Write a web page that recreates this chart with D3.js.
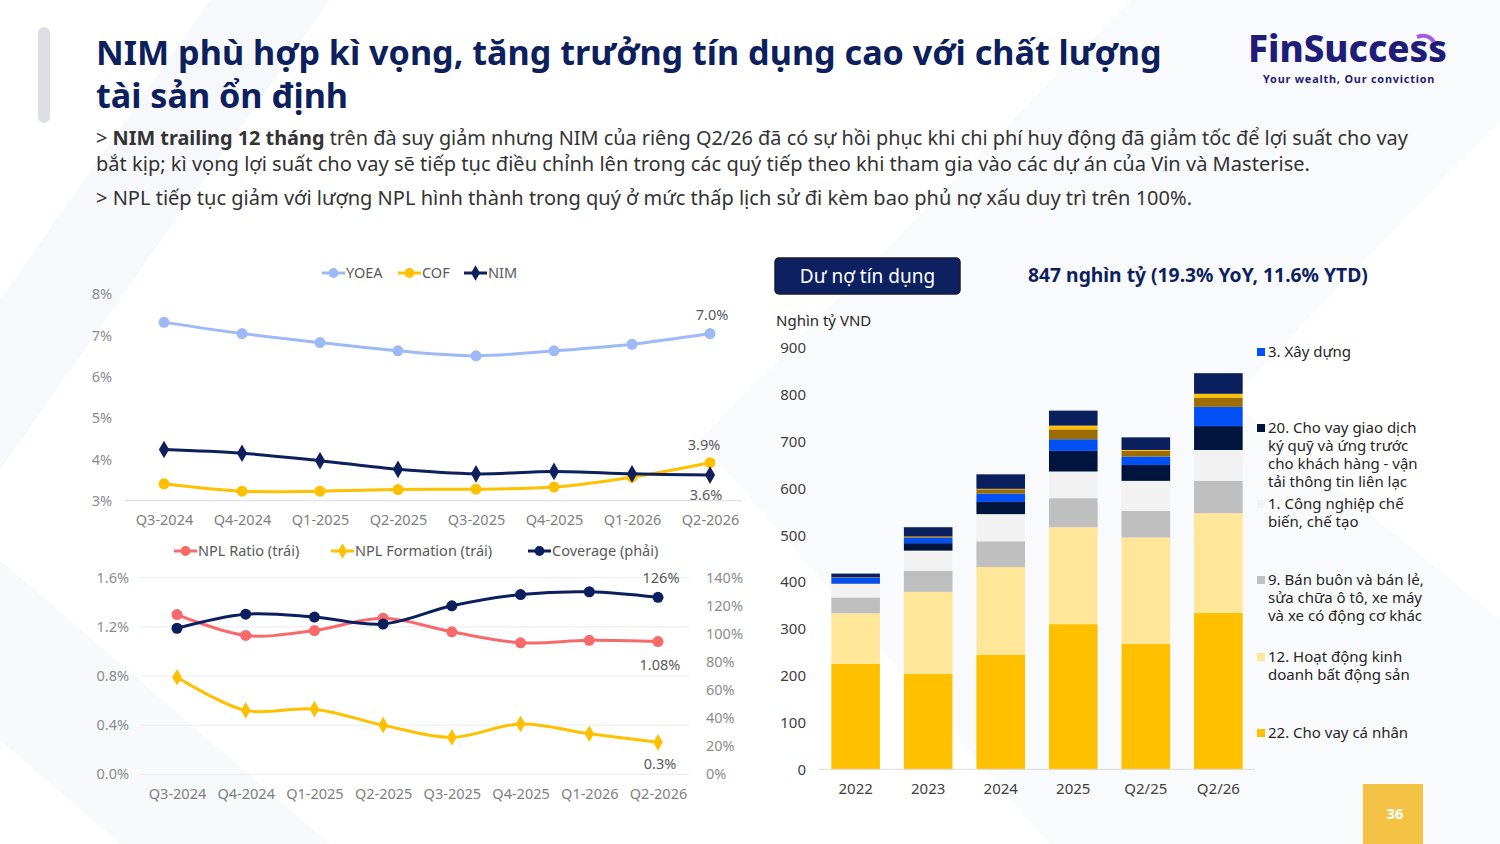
<!DOCTYPE html>
<html>
<head>
<meta charset="utf-8">
<script src="https://cdn.jsdelivr.net/npm/d3@7.9.0/dist/d3.min.js"></script>
<style>
  body { margin: 0; background: #fff; }
  svg { display: block; font-family: "Noto Sans", sans-serif; }
</style>
</head>
<body>
<svg id="slide" width="1500" height="844"></svg>
<script>
// ---- data: margins (top left) ----
const quarters = ["Q3-2024", "Q4-2024", "Q1-2025", "Q2-2025", "Q3-2025", "Q4-2025", "Q1-2026", "Q2-2026"];
const yoea = [7.32, 7.05, 6.83, 6.63, 6.51, 6.63, 6.79, 7.05];
const cof = [3.41, 3.23, 3.23, 3.27, 3.28, 3.33, 3.57, 3.92];
const nim = [4.24, 4.15, 3.97, 3.76, 3.65, 3.71, 3.65, 3.62];
const rateTicks = [3, 4, 5, 6, 7, 8];

// ---- data: asset quality (bottom left) ----
const nplRatio = [1.30, 1.13, 1.17, 1.27, 1.16, 1.07, 1.09, 1.08];
const nplFormation = [0.79, 0.52, 0.53, 0.40, 0.30, 0.41, 0.33, 0.26];
const coverage = [104, 114, 112, 107, 120, 128, 130, 126];
const nplTicks = [0, 0.4, 0.8, 1.2, 1.6];
const coverageTicks = [0, 20, 40, 60, 80, 100, 120, 140];

// ---- data: loan book by sector (right), nghìn tỷ VND ----
const periods = ["2022", "2023", "2024", "2025", "Q2/25", "Q2/26"];
const loanPersonal = [225, 204, 245, 310, 268, 334];     // 22. Cho vay cá nhân
const loanRealEstate = [108, 175, 187, 207, 227, 213];   // 12. Hoạt động kinh doanh BĐS
const loanTrade = [34, 45, 55, 62, 57, 69];              // 9. Bán buôn và bán lẻ
const loanManufacturing = [29, 43, 58, 57, 64, 66];      // 1. Công nghiệp chế biến
const loanMargin = [1, 16, 26, 44, 34, 51];              // 20. Cho vay giao dịch ký quỹ
const loanConstruction = [12, 12, 18, 25, 18, 41];       // 3. Xây dựng
const loanOtherA = [1, 3, 9, 21, 12, 20];
const loanOtherB = [0, 0, 1, 8, 2, 8];
const loanOtherC = [8, 19, 31, 32, 27, 44];
const loanTicks = [0, 100, 200, 300, 400, 500, 600, 700, 800, 900];

const svg = d3.select("#slide");
const navy = "#0d1f5c";

// fit a text element to a target width by scaling font size
function fitWidth(sel, target) {
  const node = sel.node();
  const fs = parseFloat(sel.attr("font-size"));
  const w = node.getComputedTextLength();
  sel.attr("font-size", (fs * target / w).toFixed(2));
}

// ---- background decoration ----
const deco = svg.append("g").attr("fill", "#f4f5f9");
deco.append("path").attr("d", "M210,0 L0,300 L0,470 L330,0 Z").attr("opacity", 0.7);
deco.append("path").attr("d", "M1130,0 L700,440 L1050,844 L1500,844 L1500,620 L1230,400 L1500,120 L1500,0 Z").attr("opacity", 0.55);
deco.append("path").attr("d", "M0,560 L330,844 L120,844 L0,740 Z").attr("opacity", 0.6);

// ---- header ----
svg.append("rect").attr("x", 38).attr("y", 27).attr("width", 12).attr("height", 96)
  .attr("rx", 6).attr("fill", "#dcdde5");

const title1 = svg.append("text").attr("x", 96).attr("y", 65).attr("font-size", 33)
  .attr("font-weight", 700).attr("fill", navy)
  .text("NIM phù hợp kì vọng, tăng trưởng tín dụng cao với chất lượng");
fitWidth(title1, 1066);
svg.append("text").attr("x", 96).attr("y", 108).attr("font-size", title1.attr("font-size"))
  .attr("font-weight", 700).attr("fill", navy).text("tài sản ổn định");

const sub1 = svg.append("text").attr("x", 96).attr("y", 145).attr("font-size", 19).attr("fill", "#333");
sub1.append("tspan").text("> ");
sub1.append("tspan").attr("font-weight", 700).text("NIM trailing 12 tháng");
sub1.append("tspan").text(" trên đà suy giảm nhưng NIM của riêng Q2/26 đã có sự hồi phục khi chi phí huy động đã giảm tốc để lợi suất cho vay");
fitWidth(sub1, 1312);
const sub2 = svg.append("text").attr("x", 96).attr("y", 171).attr("font-size", 19).attr("fill", "#333")
  .text("bắt kịp; kì vọng lợi suất cho vay sẽ tiếp tục điều chỉnh lên trong các quý tiếp theo khi tham gia vào các dự án của Vin và Masterise.");
fitWidth(sub2, 1215);
const sub3 = svg.append("text").attr("x", 96).attr("y", 205).attr("font-size", 19).attr("fill", "#333")
  .text("> NPL tiếp tục giảm với lượng NPL hình thành trong quý ở mức thấp lịch sử đi kèm bao phủ nợ xấu duy trì trên 100%.");
fitWidth(sub3, 1096);

// ---- logo ----
const logo = svg.append("text").attr("x", 1248).attr("y", 62).attr("font-size", 36)
  .attr("font-weight", 800).attr("fill", "#1f1d78").text("FinSuccess");
fitWidth(logo, 199);
const tag = svg.append("text").attr("x", 1263).attr("y", 83).attr("font-size", 11)
  .attr("font-weight", 700).attr("fill", "#1f1d78").attr("letter-spacing", 0.8)
  .text("Your wealth, Our conviction");
fitWidth(tag, 172);
svg.append("path").attr("d", "M1417,37 Q1428,33 1434,42").attr("fill", "none")
  .attr("stroke", "#a259e6").attr("stroke-width", 4);

// ---- helpers for line charts ----
function legendItem(g, x, y, color, label, shape) {
  g.append("line").attr("x1", x).attr("x2", x + 23).attr("y1", y).attr("y2", y)
    .attr("stroke", color).attr("stroke-width", 3);
  g.append("path").attr("transform", `translate(${x + 11.5},${y})`)
    .attr("d", d3.symbol(shape, shape === d3.symbolDiamond ? 70 : 75)())
    .attr("fill", color);
  g.append("text").attr("x", x + 24).attr("y", y + 5).attr("font-size", 14.5)
    .attr("fill", "#595959").text(label);
}

function drawSeries(g, xs, ys, values, color, shape, size) {
  const line = d3.line().x((d, i) => xs(quarters[i])).y(d => ys(d)).curve(d3.curveCatmullRom.alpha(0.5));
  g.append("path").datum(values).attr("d", line).attr("fill", "none")
    .attr("stroke", color).attr("stroke-width", 3);
  g.selectAll(null).data(values).join("path")
    .attr("transform", (d, i) => `translate(${xs(quarters[i])},${ys(d)})`)
    .attr("d", d3.symbol(shape, size)())
    .attr("fill", color);
}

function styleAxis(axisG, size, color) {
  axisG.select(".domain").remove();
  axisG.selectAll("text").attr("font-size", size).attr("fill", color).attr("font-family", "Noto Sans");
}

// ---- chart 1: YOEA / COF / NIM ----
const c1 = svg.append("g");
const x1 = d3.scalePoint().domain(quarters).range([164, 710]);
const y1 = d3.scaleLinear().domain([3, 8]).range([500.7, 294.3]);

c1.append("line").attr("x1", 125).attr("x2", 742).attr("y1", y1(3)).attr("y2", y1(3))
  .attr("stroke", "#d9d9d9").attr("stroke-width", 1);

const y1Axis = c1.append("g").attr("transform", "translate(112,0)")
  .call(d3.axisLeft(y1).tickValues(rateTicks).tickSize(0).tickPadding(0).tickFormat(d => d + "%"));
styleAxis(y1Axis, 14.5, "#8c8c8c");

const x1Axis = c1.append("g").attr("transform", `translate(0,${y1(3) + 12})`)
  .call(d3.axisBottom(x1).tickSize(0).tickPadding(0));
styleAxis(x1Axis, 14.5, "#7f7f7f");
x1Axis.selectAll("text").attr("dy", "0.85em");

drawSeries(c1, x1, y1, yoea, "#9dbaf7", d3.symbolCircle, 95);
drawSeries(c1, x1, y1, cof, "#ffc000", d3.symbolCircle, 95);
drawSeries(c1, x1, y1, nim, navy, d3.symbolDiamond, 90);

const last = quarters.length - 1;
const c1Labels = [
  { v: yoea[last], text: "7.0%", dx: 2, dy: -14 },
  { v: cof[last], text: "3.9%", dx: -6, dy: -13 },
  { v: nim[last], text: "3.6%", dx: -4, dy: 25 }
];
c1.selectAll(".dl").data(c1Labels).join("text")
  .attr("x", d => x1(quarters[last]) + d.dx).attr("y", d => y1(d.v) + d.dy)
  .attr("text-anchor", "middle").attr("font-size", 14.5).attr("fill", "#595959")
  .text(d => d.text);

const lg1 = c1.append("g");
legendItem(lg1, 322, 273, "#9dbaf7", "YOEA", d3.symbolCircle);
legendItem(lg1, 398, 273, "#ffc000", "COF", d3.symbolCircle);
legendItem(lg1, 464, 273, navy, "NIM", d3.symbolDiamond);

// ---- chart 2: NPL ratio / formation / coverage ----
const c2 = svg.append("g");
const x2 = d3.scalePoint().domain(quarters).range([177, 658]);
const y2 = d3.scaleLinear().domain([0, 1.6]).range([774.3, 577.7]);
const y2r = d3.scaleLinear().domain([0, 140]).range([774.3, 577.7]);

c2.selectAll(".grid").data(nplTicks).join("line")
  .attr("x1", 140).attr("x2", 690).attr("y1", d => y2(d)).attr("y2", d => y2(d))
  .attr("stroke", "#ececec").attr("stroke-width", 1);

const y2Axis = c2.append("g").attr("transform", "translate(129,0)")
  .call(d3.axisLeft(y2).tickValues(nplTicks).tickSize(0).tickPadding(0).tickFormat(d => d.toFixed(1) + "%"));
styleAxis(y2Axis, 14.5, "#8c8c8c");

const y2rAxis = c2.append("g").attr("transform", "translate(706,0)")
  .call(d3.axisRight(y2r).tickValues(coverageTicks).tickSize(0).tickPadding(0).tickFormat(d => d + "%"));
styleAxis(y2rAxis, 14.5, "#8c8c8c");

const x2Axis = c2.append("g").attr("transform", `translate(0,${y2(0) + 12})`)
  .call(d3.axisBottom(x2).tickSize(0).tickPadding(0));
styleAxis(x2Axis, 14.5, "#7f7f7f");
x2Axis.selectAll("text").attr("dy", "0.85em");

drawSeries(c2, x2, y2, nplRatio, "#f8696b", d3.symbolCircle, 95);
drawSeries(c2, x2, y2, nplFormation, "#ffc000", d3.symbolDiamond, 80);
drawSeries(c2, x2, y2r, coverage, "#0b1f5e", d3.symbolCircle, 95);

const c2Labels = [
  { y: y2r(coverage[last]), text: "126%", dx: 3, dy: -14 },
  { y: y2(nplRatio[last]), text: "1.08%", dx: 2, dy: 28 },
  { y: y2(nplFormation[last]), text: "0.3%", dx: 2, dy: 27 }
];
c2.selectAll(".dl").data(c2Labels).join("text")
  .attr("x", d => x2(quarters[last]) + d.dx).attr("y", d => d.y + d.dy)
  .attr("text-anchor", "middle").attr("font-size", 14.5).attr("fill", "#595959")
  .text(d => d.text);

const lg2 = c2.append("g");
legendItem(lg2, 174, 551, "#f8696b", "NPL Ratio (trái)", d3.symbolCircle);
legendItem(lg2, 331, 551, "#ffc000", "NPL Formation (trái)", d3.symbolDiamond);
legendItem(lg2, 528, 551, "#0b1f5e", "Coverage (phải)", d3.symbolCircle);

// ---- chart 3: stacked loan book ----
const sectors = [
  { key: "22. Cho vay cá nhân", values: loanPersonal, color: "#ffc000" },
  { key: "12. Hoạt động kinh doanh bất động sản", values: loanRealEstate, color: "#ffe699" },
  { key: "9. Bán buôn và bán lẻ, sửa chữa ô tô, xe máy và xe có động cơ khác", values: loanTrade, color: "#bfbfbf" },
  { key: "1. Công nghiệp chế biến, chế tạo", values: loanManufacturing, color: "#f2f2f2" },
  { key: "20. Cho vay giao dịch ký quỹ và ứng trước cho khách hàng - vận tải thông tin liên lạc", values: loanMargin, color: "#00153d" },
  { key: "3. Xây dựng", values: loanConstruction, color: "#0050f5" },
  { key: "Khác A", values: loanOtherA, color: "#9c6c00" },
  { key: "Khác B", values: loanOtherB, color: "#ffc000" },
  { key: "Khác C", values: loanOtherC, color: "#0b1f5e" }
];
const loanTable = periods.map((p, i) => {
  const row = { period: p };
  sectors.forEach(s => { row[s.key] = s.values[i]; });
  return row;
});
const stack = d3.stack().keys(sectors.map(s => s.key))(loanTable);

const c3 = svg.append("g");
const x3 = d3.scaleBand().domain(periods).range([819, 1255]).paddingInner(0.33).paddingOuter(0.17);
const y3 = d3.scaleLinear().domain([0, 900]).range([769.3, 347.9]);

c3.selectAll(".layer").data(stack).join("g")
  .attr("fill", (d, i) => sectors[i].color)
  .selectAll("rect").data(d => d).join("rect")
  .attr("x", d => x3(d.data.period))
  .attr("width", x3.bandwidth())
  .attr("y", d => y3(d[1]))
  .attr("height", d => Math.max(0, y3(d[0]) - y3(d[1])));

c3.append("line").attr("x1", 819).attr("x2", 1255).attr("y1", y3(0)).attr("y2", y3(0))
  .attr("stroke", "#d9d9d9");

const y3Axis = c3.append("g").attr("transform", "translate(806,0)")
  .call(d3.axisLeft(y3).tickValues(loanTicks).tickSize(0).tickPadding(0));
styleAxis(y3Axis, 15, "#404040");

const x3Axis = c3.append("g").attr("transform", `translate(0,${y3(0) + 12})`)
  .call(d3.axisBottom(x3).tickSize(0).tickPadding(0));
styleAxis(x3Axis, 15, "#404040");
x3Axis.selectAll("text").attr("dy", "0.85em");

svg.append("text").attr("x", 776).attr("y", 326).attr("font-size", 15).attr("fill", "#262626").text("Nghìn tỷ VND");

// title box and headline
svg.append("rect").attr("x", 775).attr("y", 258).attr("width", 185).attr("height", 36).attr("rx", 4)
  .attr("fill", "#0d2060").attr("stroke", "#1a1a2e").attr("stroke-width", 1.5);
svg.append("text").attr("x", 867.5).attr("y", 283).attr("text-anchor", "middle")
  .attr("font-size", 19).attr("fill", "#fff").text("Dư nợ tín dụng");
const headline = svg.append("text").attr("x", 1028).attr("y", 282).attr("font-size", 19)
  .attr("font-weight", 700).attr("fill", navy).text("847 nghìn tỷ (19.3% YoY, 11.6% YTD)");
fitWidth(headline, 340);

// legend (wrapped lines as in the reference)
const legendRows = [
  { color: "#0050f5", y: 357, lines: ["3. Xây dựng"] },
  { color: "#00153d", y: 433, lines: ["20. Cho vay giao dịch", "ký quỹ và ứng trước", "cho khách hàng - vận", "tải thông tin liên lạc"] },
  { color: "#f2f2f2", y: 509, lines: ["1. Công nghiệp chế", "biến, chế tạo"] },
  { color: "#bfbfbf", y: 585, lines: ["9. Bán buôn và bán lẻ,", "sửa chữa ô tô, xe máy", "và xe có động cơ khác"] },
  { color: "#ffe699", y: 662, lines: ["12. Hoạt động kinh", "doanh bất động sản"] },
  { color: "#ffc000", y: 738, lines: ["22. Cho vay cá nhân"] }
];
const lg3 = svg.append("g");
legendRows.forEach(r => {
  lg3.append("rect").attr("x", 1257).attr("y", r.y - 9).attr("width", 8).attr("height", 8).attr("fill", r.color);
  const t = lg3.append("text").attr("font-size", 15).attr("fill", "#262626");
  r.lines.forEach((l, i) => t.append("tspan").attr("x", 1268).attr("y", r.y + i * 18).text(l));
});

// ---- page number ----
svg.append("rect").attr("x", 1363).attr("y", 784).attr("width", 60).attr("height", 60).attr("fill", "#f4c245");
svg.append("text").attr("x", 1395).attr("y", 819).attr("text-anchor", "middle").attr("font-size", 15)
  .attr("font-weight", 700).attr("fill", "#fff").text("36");
</script>
</body>
</html>
